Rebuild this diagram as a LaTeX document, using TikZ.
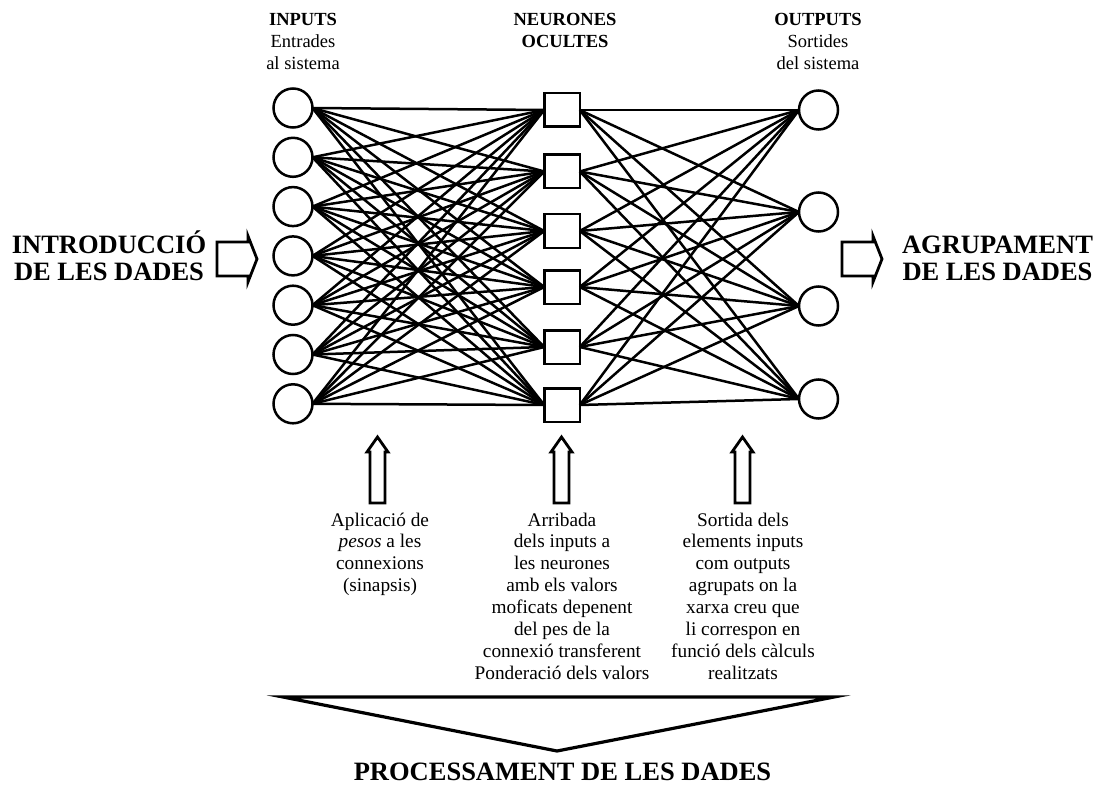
\documentclass[tikz,border=0pt]{standalone}
\usepackage{fontspec}
\setmainfont{Liberation Serif}
% stacked, centred lines whose baseline is the first line's
\newcommand{\txtlines}[1]{\begin{tabular}[t]{@{}c@{}}#1\end{tabular}}
\begin{document}
\begin{tikzpicture}[x=1pt,y=-1pt,
  neuron/.style={circle,draw,line width=2.5pt,minimum size=39pt,inner sep=0pt,outer sep=0pt},
  hidden/.style={rectangle,draw,line width=2.5pt,minimum width=35.5pt,minimum height=33.5pt,inner sep=0pt,outer sep=0pt},
  link/.style={line width=2.5pt},
  hollow/.style={draw,line width=2.8pt,line join=miter,miter limit=20},
  toplabel/.style={anchor=base,inner sep=0pt,font=\fontsize{18.5}{22}\selectfont},
  biglabel/.style={anchor=base,inner sep=0pt,font=\fontsize{26.5}{27.4}\selectfont\bfseries},
  desc/.style={anchor=base,inner sep=0pt,font=\fontsize{19.3}{21.9}\selectfont}
]
\useasboundingbox (0,0) rectangle (1099,786);

% layers of the network
\foreach \i in {1,...,7}
  \node[neuron] (in\i) at (293,{108+49.3*(\i-1)}) {};
\foreach \y [count=\i] in {110,171.5,231,287,347,405}
  \node[hidden] (hid\i) at (562,\y) {};
\foreach \y [count=\i] in {110,212,306,399}
  \node[neuron] (out\i) at (818.5,\y) {};

% full connections between the layers
\foreach \i in {1,...,7}
  \foreach \j in {1,...,6}
    \draw[link] (in\i.east) -- (hid\j.west);
\foreach \j in {1,...,6}
  \foreach \k in {1,...,4}
    \draw[link] (hid\j.east) -- (out\k.west);

% column headings
\node[toplabel] (hin) at (303,26) {\txtlines{\textbf{INPUTS}\\Entrades\\al sistema}};
\node[toplabel,font=\fontsize{18.5}{22}\selectfont\bfseries] (hhid) at (565,26) {\txtlines{NEURONES\\OCULTES}};
\node[toplabel] (hout) at (818,26) {\txtlines{\textbf{OUTPUTS}\\Sortides\\del sistema}};

% data in / data out
\node[biglabel] (lin) at (109,253.3) {\txtlines{INTRODUCCIÓ\\DE LES DADES}};
\node[biglabel] (lout) at (997.5,253) {\txtlines{AGRUPAMENT\\DE LES DADES}};
\draw[hollow] (217,242) -- (248,242) -- (248,236) -- (257,259) -- (248,282) -- (248,276) -- (217,276) -- cycle;
\draw[hollow] (842,242) -- (873,242) -- (873,236) -- (882,259) -- (873,282) -- (873,276) -- (842,276) -- cycle;

% hollow up arrows
\foreach \cx in {377.5,561.5,742.5}
  \draw[hollow] (\cx-7.5,503) -- (\cx-7.5,452) -- (\cx-10.5,452) -- (\cx,437)
    -- (\cx+10.5,452) -- (\cx+7.5,452) -- (\cx+7.5,503) -- cycle;

% descriptions
\node[desc] (d1) at (380,526) {\txtlines{Aplicació de\\\textit{pesos} a les\\connexions\\(sinapsis)}};
\node[desc] (d2) at (562,526) {\txtlines{Arribada\\dels inputs a\\les neurones\\amb els valors\\moficats depenent\\del pes de la\\connexió transferent\\Ponderació dels valors}};
\node[desc] (d3) at (743,526) {\txtlines{Sortida dels\\elements inputs\\com outputs\\agrupats on la\\xarxa creu que\\li correspon en\\funció dels càlculs\\realitzats}};

% processing wedge
\draw[hollow,line width=3.2pt] (283,697) -- (834,697) -- (557,751) -- cycle;
\node[biglabel] (lproc) at (562.5,780.5) {PROCESSAMENT DE LES DADES};
\end{tikzpicture}
\end{document}
